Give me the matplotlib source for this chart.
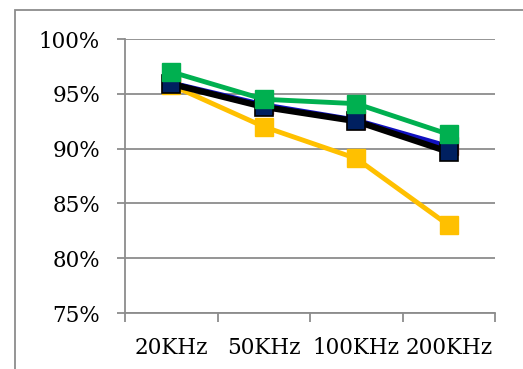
import matplotlib
matplotlib.use("Agg")
import matplotlib.pyplot as plt
from matplotlib.patches import Rectangle
import numpy as np

categories = ["20KHz", "50KHz", "100KHz", "200KHz"]
series_blue = [96.0, 94.0, 92.6, 90.2]
series_yellow = [95.8, 92.0, 89.1, 83.0]
series_black = [95.9, 93.8, 92.5, 89.7]
series_green = [97.0, 94.5, 94.1, 91.3]
y_ticks = [75, 80, 85, 90, 95, 100]

fig = plt.figure(figsize=(5.23, 3.69), dpi=100)
ax = fig.add_axes([125 / 523, 1 - 313 / 369, 370 / 523, 274 / 369])

x = np.arange(len(categories))
ms = 13

ax.plot(x, series_blue, color="#1010C0", lw=3.5, marker="s", ms=ms,
        mfc="#C0504D", mec="#C0504D", zorder=3)
ax.plot(x, series_yellow, color="#FFC000", lw=3.5, marker="s", ms=ms,
        mfc="#FFC000", mec="#FFC000", zorder=4)
ax.plot(x, series_black, color="black", lw=4.5, marker="s", ms=ms,
        mfc="#002060", mec="black", mew=1.2, zorder=5)
ax.plot(x, series_green, color="#00B050", lw=3.5, marker="s", ms=ms,
        mfc="#00B050", mec="#00B050", zorder=6)

ax.set_xlim(-0.5, len(categories) - 0.5)
ax.set_ylim(75, 100)

ax.set_yticks(y_ticks)
ax.set_yticklabels([f"{v}%" for v in y_ticks])
ax.yaxis.grid(True, color="#8C8C8C", lw=1.3)
ax.set_axisbelow(True)

ax.set_xticks(x)
ax.set_xticklabels(categories)
ax.set_xticks(np.arange(-0.5, len(categories)), minor=True)

for s in ("top", "right"):
    ax.spines[s].set_visible(False)
for s in ("left", "bottom"):
    ax.spines[s].set_color("#8C8C8C")
    ax.spines[s].set_linewidth(1.3)

font = {"family": "DejaVu Serif", "size": 15.5}
for lab in ax.get_yticklabels() + ax.get_xticklabels():
    lab.set_fontfamily(font["family"])
    lab.set_fontsize(font["size"])

ax.tick_params(axis="y", which="major", direction="out", length=6,
               width=1.3, color="#8C8C8C", pad=12)
ax.tick_params(axis="x", which="major", length=0, pad=17)
ax.tick_params(axis="x", which="minor", direction="out", length=6.5,
               width=1.3, color="#8C8C8C")

# Outer chart-area frame, running off the right and bottom edges
fig.patches.append(Rectangle((15 / 523, -0.1), 1.2, 1.1 - 10 / 369,
                             transform=fig.transFigure, fill=False,
                             edgecolor="#8C8C8C", lw=1.3))

fig.savefig("out.png", dpi=100)
